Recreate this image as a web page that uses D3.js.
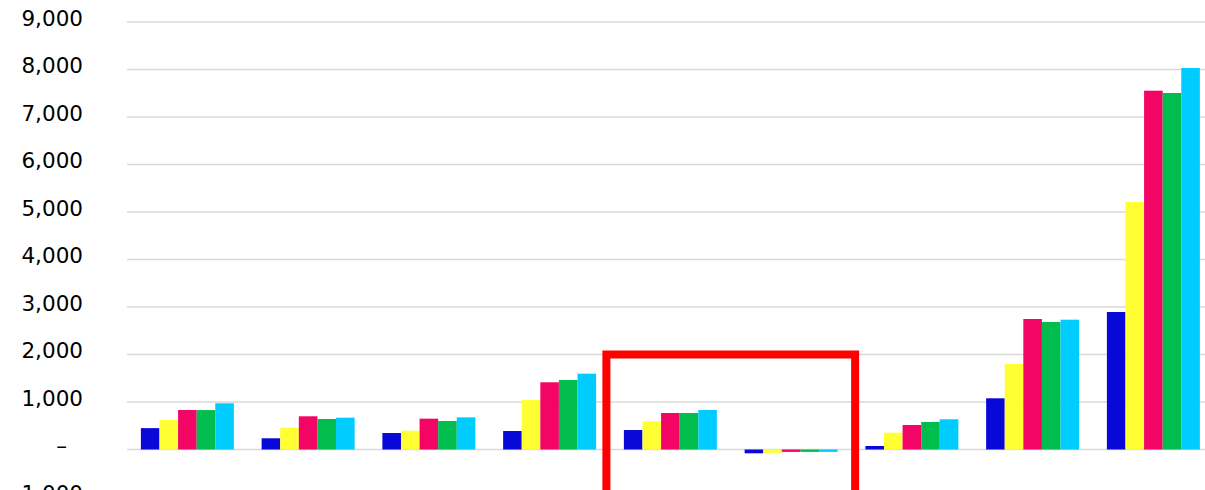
<!DOCTYPE html>
<html>
<head>
<meta charset="utf-8">
<script src="https://cdn.jsdelivr.net/npm/d3@7"></script>
<style>
  body { margin: 0; background: #fff; overflow: hidden; }
  svg { display: block; }
</style>
</head>
<body>
<script>
// categories (no labels shown on the chart) and the five series
var categories = ["C1", "C2", "C3", "C4", "C5", "C6", "C7", "C8", "C9"];
var seriesNames = ["S1", "S2", "S3", "S4", "S5"];
var s1 = [450, 236, 347, 389, 410, -80, 74, 1078, 2895];
var s2 = [621, 459, 396, 1042, 593, -70, 354, 1800, 5210];
var s3 = [832, 699, 649, 1415, 768, -50, 516, 2747, 7554];
var s4 = [830, 642, 600, 1463, 768, -50, 579, 2684, 7505];
var s5 = [973, 670, 677, 1596, 832, -50, 636, 2733, 8032];
var yTicks = [-1000, 0, 1000, 2000, 3000, 4000, 5000, 6000, 7000, 8000, 9000];
var colors = ["#0808d8", "#ffff33", "#f20564", "#00bd4d", "#00ccff"];

var width = 1205, height = 490;
var allSeries = [s1, s2, s3, s4, s5];

var svg = d3.select("body").append("svg")
    .attr("width", width)
    .attr("height", height);

var x = d3.scaleBand()
    .domain(categories)
    .range([127, 1213.75])
    .paddingInner(0.23)
    .paddingOuter(0.115);

var x1 = d3.scaleBand()
    .domain(seriesNames)
    .range([0, x.bandwidth()]);

var y = d3.scaleLinear()
    .domain([-1000, 9000])
    .range([497, 22]);

// gridlines
svg.append("g")
    .selectAll("line")
    .data(yTicks)
    .enter().append("line")
    .attr("x1", 127)
    .attr("x2", width)
    .attr("y1", function(d) { return y(d); })
    .attr("y2", function(d) { return y(d); })
    .attr("stroke", "#d9d9d9")
    .attr("stroke-width", 1.5);

// y axis labels
var yAxis = d3.axisLeft(y)
    .tickValues(yTicks)
    .tickSize(0)
    .tickPadding(0)
    .tickFormat(function(d) { return d === 0 ? "\u2013" : d3.format(",")(d); });

var axisG = svg.append("g")
    .attr("transform", "translate(83,0)")
    .call(yAxis);
axisG.select(".domain").remove();
axisG.selectAll("text")
    .attr("font-family", "DejaVu Sans, sans-serif")
    .attr("font-size", 21.5)
    .attr("fill", "#000")
    .attr("dy", "0.15em")
    .attr("x", function(d) { return d === 0 ? -16 : 0; });

// bars
var groups = svg.append("g")
    .selectAll("g")
    .data(categories)
    .enter().append("g")
    .attr("transform", function(d) { return "translate(" + x(d) + ",0)"; });

groups.selectAll("rect")
    .data(function(d, i) {
        return allSeries.map(function(s, j) { return { key: seriesNames[j], value: s[i], color: colors[j] }; });
    })
    .enter().append("rect")
    .attr("x", function(d) { return x1(d.key); })
    .attr("width", x1.bandwidth())
    .attr("y", function(d) { return y(Math.max(0, d.value)); })
    .attr("height", function(d) { return Math.abs(y(d.value) - y(0)); })
    .attr("fill", function(d) { return d.color; });

// red highlight box round groups 5 and 6
var boxLeft = x(categories[4]) - 17.5;
var boxRight = x(categories[5]) + x.bandwidth() + 17.5;
svg.append("rect")
    .attr("x", boxLeft)
    .attr("y", y(2000))
    .attr("width", boxRight - boxLeft)
    .attr("height", height - y(2000) + 40)
    .attr("fill", "none")
    .attr("stroke", "#ff0000")
    .attr("stroke-width", 8);
</script>
</body>
</html>
